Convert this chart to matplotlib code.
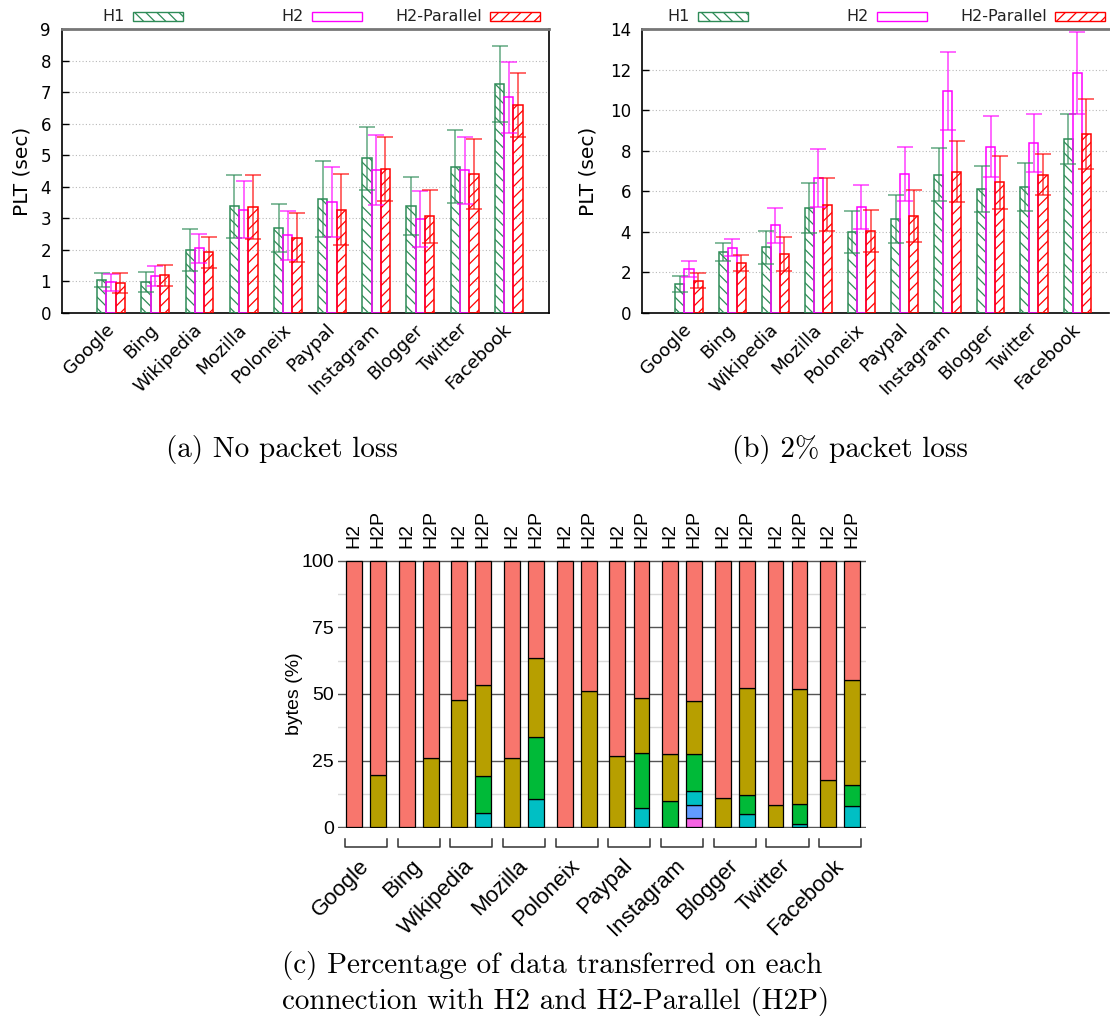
import numpy as np
import matplotlib
matplotlib.use('Agg')
import matplotlib.pyplot as plt
import matplotlib.transforms as mtransforms
from matplotlib.patches import Rectangle

sites = ['Google', 'Bing', 'Wikipedia', 'Mozilla', 'Poloneix',
         'Paypal', 'Instagram', 'Blogger', 'Twitter', 'Facebook']
series = ['H1', 'H2', 'H2-Parallel']

# (a) page load time, no packet loss (sec) and error bar half-length
a_h1 = [1.05, 0.99, 2.00, 3.38, 2.68, 3.61, 4.90, 3.38, 4.64, 7.25]
a_h1_err = [0.22, 0.31, 0.67, 1.00, 0.76, 1.21, 1.01, 0.92, 1.16, 1.20]
a_h2 = [0.97, 1.18, 2.05, 3.27, 2.46, 3.52, 4.53, 2.98, 4.53, 6.83]
a_h2_err = [0.27, 0.31, 0.46, 0.90, 0.77, 1.11, 1.11, 0.90, 1.06, 1.11]
a_h2p = [0.95, 1.19, 1.92, 3.36, 2.39, 3.27, 4.56, 3.06, 4.40, 6.60]
a_h2p_err = [0.31, 0.33, 0.48, 1.00, 0.78, 1.13, 1.01, 0.84, 1.10, 1.02]

# (b) page load time, 2% packet loss (sec)
b_h1 = [1.43, 2.99, 3.24, 5.18, 3.99, 4.65, 6.82, 6.11, 6.21, 8.58]
b_h1_err = [0.41, 0.44, 0.82, 1.23, 1.04, 1.18, 1.31, 1.12, 1.18, 1.23]
b_h2 = [2.17, 3.22, 4.32, 6.65, 5.23, 6.85, 10.94, 8.20, 8.36, 11.83]
b_h2_err = [0.39, 0.43, 0.86, 1.42, 1.10, 1.32, 1.91, 1.51, 1.43, 2.01]
b_h2p = [1.59, 2.46, 2.91, 5.34, 4.03, 4.77, 6.97, 6.44, 6.82, 8.82]
b_h2p_err = [0.38, 0.40, 0.84, 1.31, 1.03, 1.29, 1.49, 1.30, 1.02, 1.73]

# (c) share of bytes per connection (%), connection 1 is the top segment
h2_c1 = [100, 100, 52.2, 73.9, 100, 73.3, 72.4, 89.2, 91.7, 82.2]
h2_c2 = [0, 0, 47.8, 26.1, 0, 26.7, 17.9, 10.8, 8.3, 17.8]
h2_c3 = [0, 0, 0, 0, 0, 0, 9.7, 0, 0, 0]
h2_c4 = [0, 0, 0, 0, 0, 0, 0, 0, 0, 0]
h2_c5 = [0, 0, 0, 0, 0, 0, 0, 0, 0, 0]
h2_c6 = [0, 0, 0, 0, 0, 0, 0, 0, 0, 0]
h2p_c1 = [80.5, 74.0, 46.6, 36.3, 48.8, 51.6, 52.5, 47.8, 48.2, 44.8]
h2p_c2 = [19.5, 26.0, 34.1, 29.9, 51.2, 20.7, 19.9, 40.2, 43.1, 39.4]
h2p_c3 = [0, 0, 14.1, 23.2, 0, 20.5, 14.1, 7.0, 7.6, 8.0]
h2p_c4 = [0, 0, 5.2, 10.6, 0, 7.2, 5.2, 5.0, 1.1, 7.8]
h2p_c5 = [0, 0, 0, 0, 0, 0, 4.7, 0, 0, 0]
h2p_c6 = [0, 0, 0, 0, 0, 0, 3.6, 0, 0, 0]

green = '#2e8b57'
magenta = '#ff00ff'
red = '#ff0000'
conn_colors = ['#F8766D', '#B79F00', '#00BA38', '#00BFC4', '#619CFF', '#F564E3']

plt.rcParams['hatch.linewidth'] = 0.9
W, H = 1110, 1019
fig = plt.figure(figsize=(W / 100, H / 100), dpi=100)


def px_box(left, top, right, bottom):
    # image pixel box -> figure fraction rect
    return [left / W, (H - bottom) / H, (right - left) / W, (bottom - top) / H]


def key(x_right, y_mid, label, color, hatch):
    # gnuplot style key entry: text then sample box
    fig.patches.append(Rectangle(((x_right - 50) / W, (H - y_mid - 4.5) / H), 50 / W, 9 / H,
                                 transform=fig.transFigure, facecolor='none',
                                 edgecolor=color, hatch=hatch, lw=1))
    fig.text((x_right - 58) / W, (H - y_mid) / H, label, ha='right', va='center',
             fontsize=11.5, color='#222222')


def plt_panel(ax, h1, h1e, h2, h2e, h2p, h2pe, ymax, ystep, ylab_x):
    x = np.arange(len(sites))
    w = 0.21
    specs = [(h1, h1e, -w, green, '\\\\\\'), (h2, h2e, 0, magenta, None), (h2p, h2pe, w, red, '///')]
    for vals, errs, off, col, hatch in specs:
        ax.bar(x + off, vals, w, facecolor='none', edgecolor=col, hatch=hatch, lw=1.1, zorder=3)
        ax.errorbar(x + off, vals, yerr=errs, fmt='none', ecolor=col, elinewidth=1.1,
                    capsize=5.5, capthick=1.1, alpha=0.75, zorder=4)
    ax.set_ylim(0, ymax)
    ax.set_yticks(np.arange(0, ymax + 0.1, ystep))
    ax.set_xticks(x)
    ax.set_xticklabels(sites, rotation=45, ha='right', va='center', rotation_mode='anchor',
                       fontsize=13)
    ax.tick_params(axis='x', length=0, pad=10)
    ax.tick_params(axis='y', direction='in', length=5, width=1, pad=8, labelsize=12)
    ax.yaxis.grid(True, linestyle=(0, (1, 2)), color='#b8b8b8', lw=0.8)
    ax.set_axisbelow(True)
    ax.set_ylabel('PLT (sec)', fontsize=14.5)
    ax.yaxis.set_label_coords(ylab_x, 0.5)
    ax.spines['top'].set_color('#777777')
    ax.spines['top'].set_linewidth(2)
    for s in ['left', 'bottom', 'right']:
        ax.spines[s].set_linewidth(1.2)


# (a) no packet loss
ax_a = fig.add_axes(px_box(62, 29, 549, 313))
plt_panel(ax_a, a_h1, a_h1_err, a_h2, a_h2_err, a_h2p, a_h2p_err, 9, 1, -0.062)
ax_a.set_xlim(-1.11, 9.91)

# (b) 2% packet loss
ax_b = fig.add_axes(px_box(642, 29, 1109, 313))
plt_panel(ax_b, b_h1, b_h1_err, b_h2, b_h2_err, b_h2p, b_h2p_err, 14, 2, -0.096)
ax_b.set_xlim(-1.09, 9.74)
ax_b.spines['right'].set_visible(False)

key_cols = [(green, '\\\\\\'), (magenta, None), (red, '///')]
for x0 in [183, 748]:
    for i, (col, hatch) in enumerate(key_cols):
        key(x0 + 178.5 * i, 16.5, series[i], col, hatch)

# (c) bytes per connection
ax_c = fig.add_axes(px_box(338, 560, 866, 828))
x = np.arange(len(sites))
bw = 0.30
variants = [(-0.228, [h2_c1, h2_c2, h2_c3, h2_c4, h2_c5, h2_c6], 'H2'),
            (0.228, [h2p_c1, h2p_c2, h2p_c3, h2p_c4, h2p_c5, h2p_c6], 'H2P')]
top_tr = mtransforms.blended_transform_factory(ax_c.transData, ax_c.transAxes)
for off, shares, tag in variants:
    bottom = np.zeros(len(sites))
    for k in range(5, -1, -1):
        v = np.array(shares[k], dtype=float)
        m = v > 0
        ax_c.bar(x[m] + off, v[m], bw, bottom=bottom[m], color=conn_colors[k],
                 edgecolor='black', lw=0.9, zorder=3)
        bottom += v
    for xi in x:
        ax_c.text(xi + off, 1.045, tag, transform=top_tr, rotation=90, ha='center',
                  va='bottom', fontsize=14, family='Liberation Sans')

# brackets below each site pair
for xi in x:
    ax_c.plot([xi - 0.40, xi - 0.40, xi + 0.40, xi + 0.40], [-0.041, -0.071, -0.071, -0.041],
              transform=top_tr, clip_on=False, color='#333333', lw=1.1)

ax_c.set_xlim(-0.53, 9.49)
ax_c.set_ylim(-0.3, 100.3)
ax_c.set_yticks([0, 25, 50, 75, 100])
ax_c.set_yticks([12.5, 37.5, 62.5, 87.5], minor=True)
ax_c.yaxis.grid(True, which='major', color='#555555', lw=1.0)
ax_c.yaxis.grid(True, which='minor', color='#dadada', lw=1.0)
ax_c.set_axisbelow(True)
for s in ax_c.spines.values():
    s.set_visible(False)
ax_c.set_xticks(x)
ax_c.set_xticklabels(sites, rotation=45, ha='right', va='center', rotation_mode='anchor',
                     fontsize=16, family='Liberation Sans')
ax_c.tick_params(axis='x', length=0, pad=25)
ax_c.tick_params(axis='y', which='both', length=0, pad=3)
for lab in ax_c.get_yticklabels():
    lab.set_fontsize(14)
    lab.set_family('Liberation Sans')
ax_c.set_ylabel('bytes (%)', fontsize=14, family='Liberation Sans')
ax_c.yaxis.set_label_coords(-0.066, 0.5)

# sub-captions
cap = dict(family='cmr10', fontsize=21, color='black')
fig.text(282 / W, 1 - 450 / H, '(a) No packet loss', ha='center', va='center', **cap)
fig.text(850 / W, 1 - 450 / H, '(b) 2% packet loss', ha='center', va='center', **cap)
fig.text(282 / W, 1 - 966 / H, '(c) Percentage of data transferred on each', ha='left',
         va='center', **cap)
fig.text(282 / W, 1 - 1001 / H, 'connection with H2 and H2-Parallel (H2P)', ha='left',
         va='center', **cap)

fig.savefig('out.png', dpi=100)
